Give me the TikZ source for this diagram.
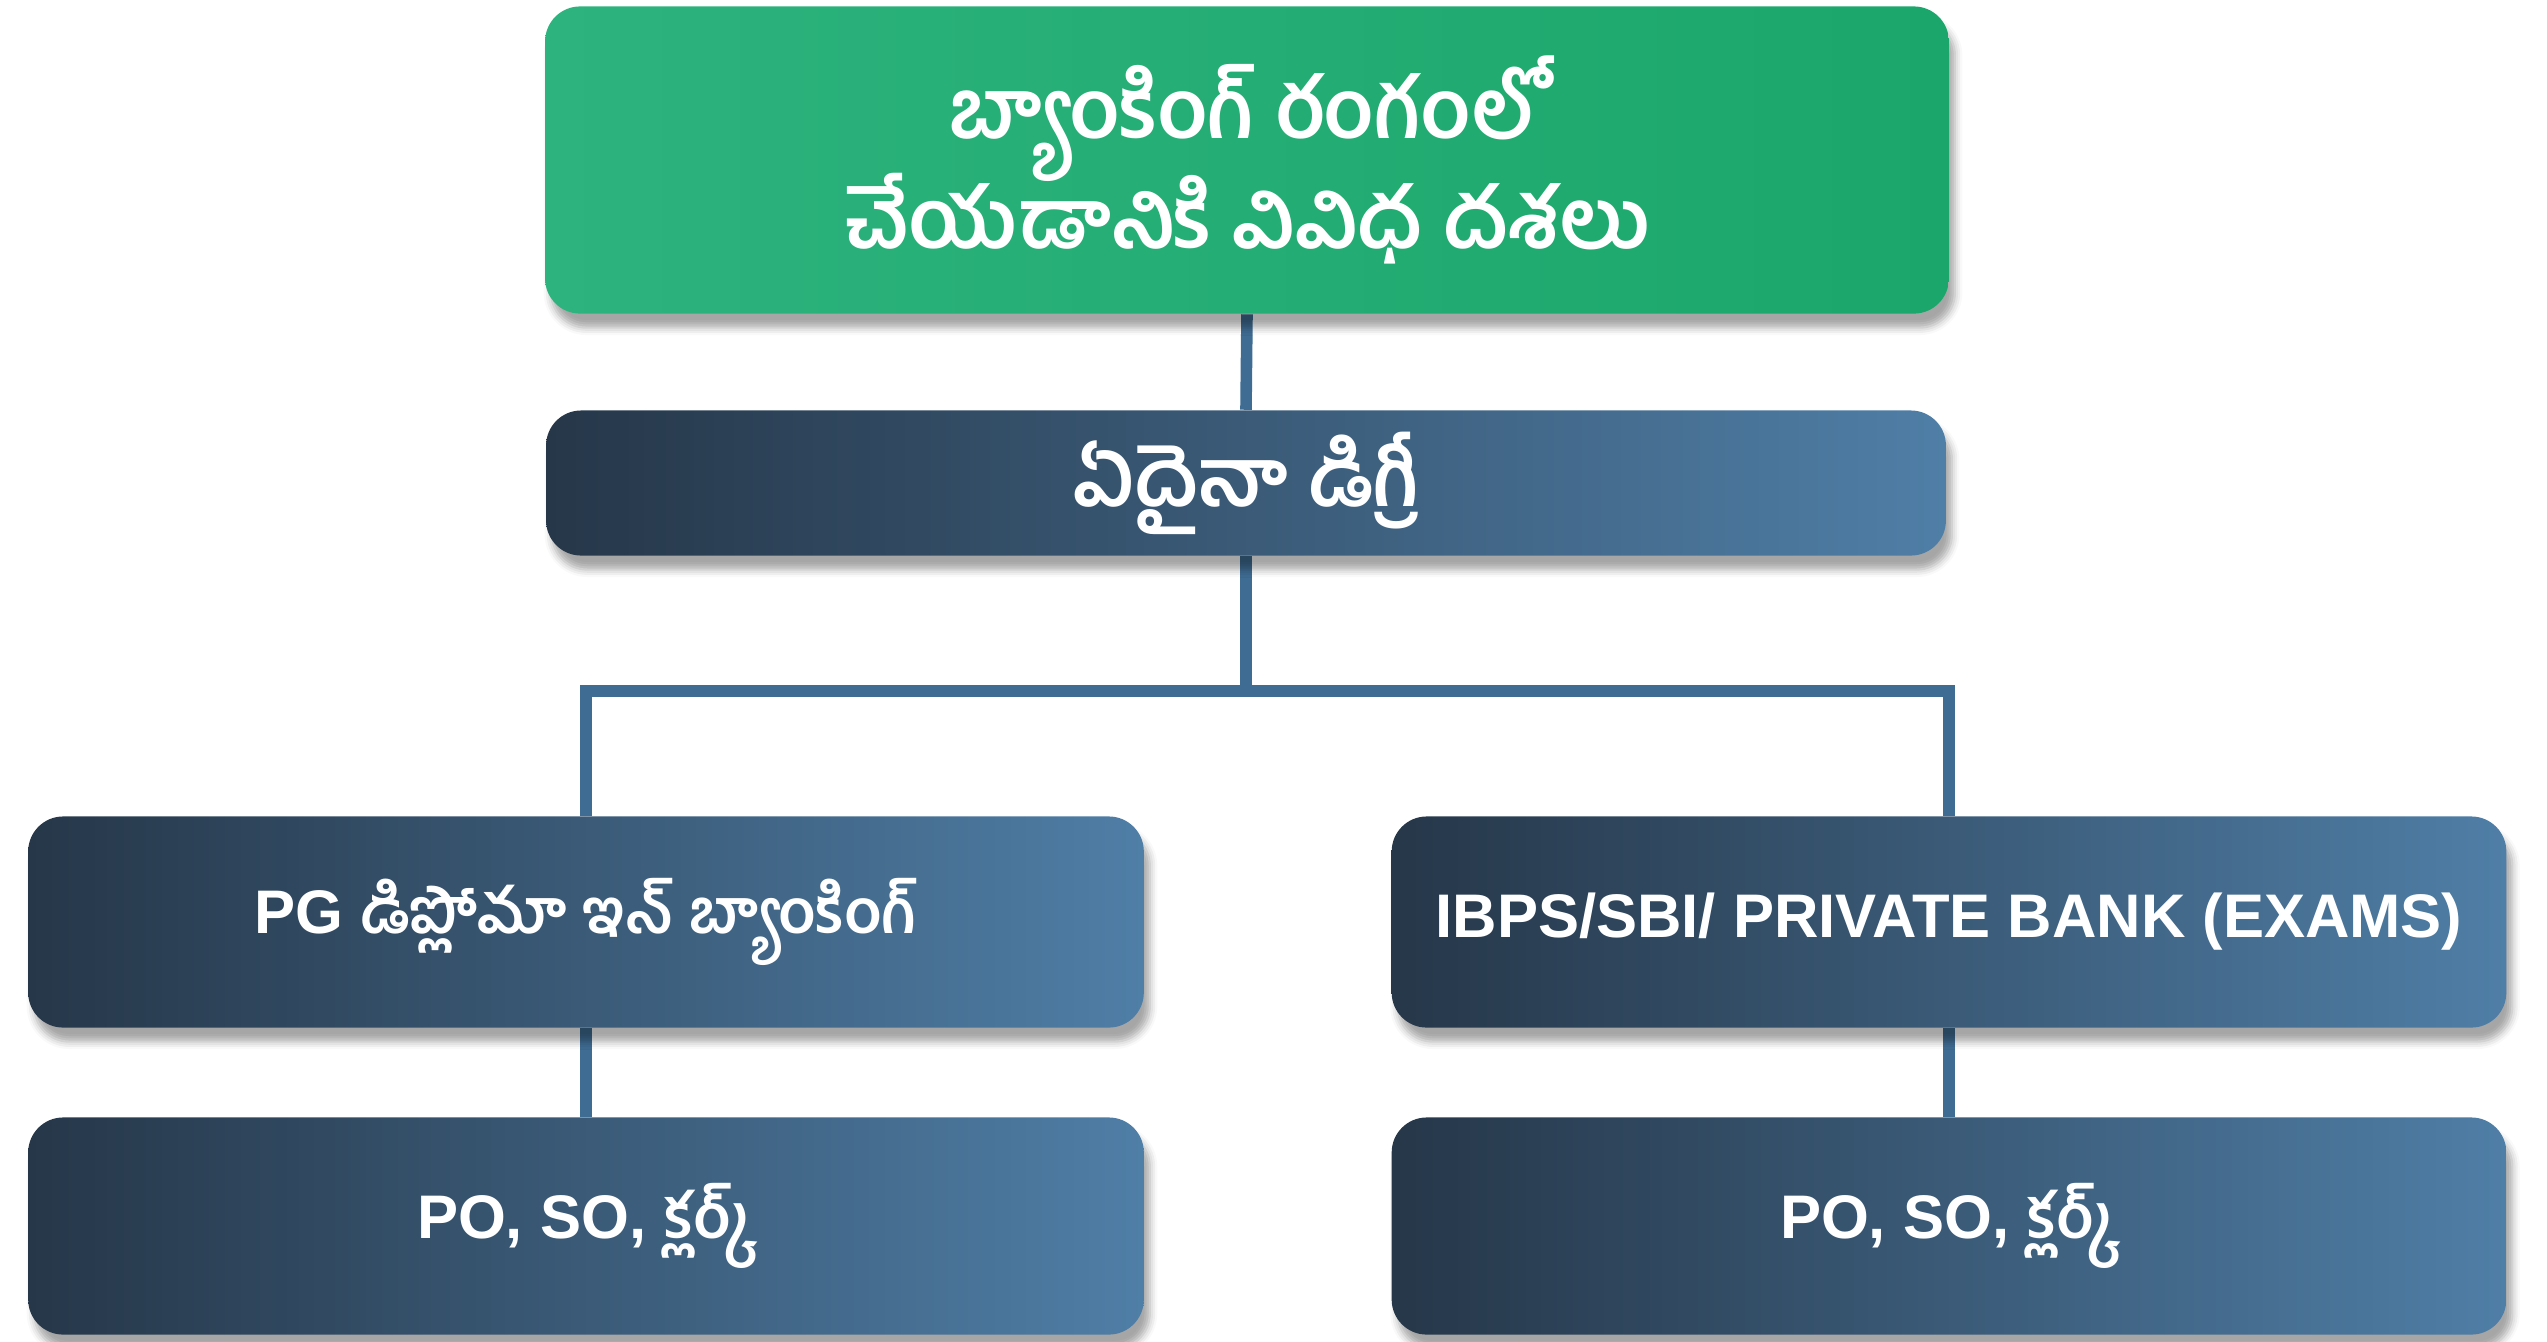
\documentclass[tikz,border=0pt]{standalone}
\usepackage{fontspec}
\setmainfont{Liberation Sans}
\newfontfamily\te[Script=Telugu]{Hind Guntur}
\usetikzlibrary{positioning,shadows.blur,backgrounds}
\definecolor{BankGreenL}{HTML}{2DB37E}
\definecolor{BankGreenR}{HTML}{1BA76B}
\definecolor{BankBlueL}{HTML}{263749}
\definecolor{BankBlueR}{HTML}{4F7EA6}
\definecolor{BankLine}{HTML}{3F6C93}

\begin{document}
\begin{tikzpicture}[x=0.01cm,y=-0.01cm,
  box/.style={rounded corners=0.35cm,text=white,align=center,
    blur shadow={shadow xshift=0.6mm,shadow yshift=-1.4mm,shadow opacity=35}},
  greenbox/.style={box,left color=BankGreenL,right color=BankGreenR,
    font=\bfseries\fontsize{23.5}{27}\selectfont},
  bluebox/.style={box,left color=BankBlueL,right color=BankBlueR,
    font=\bfseries\fontsize{17.5}{22}\selectfont},
  link/.style={BankLine,line width=3.3pt}]
  \useasboundingbox (0,0) rectangle (2547,1341);
  \node[greenbox,minimum width=14.03cm,minimum height=3.07cm] (top) at (1247,160)
      {\te బ్యాంకింగ్ రంగంలో\\[-0.12cm]\te చేయడానికి వివిధ దశలు};
  \node[bluebox,minimum width=13.99cm,minimum height=1.45cm,
      font=\bfseries\fontsize{23}{28}\selectfont] (degree) at (1246,483)
      {\te ఏదైనా డిగ్రీ};
  \node[bluebox,minimum width=11.15cm,minimum height=2.11cm] (pgd) at (586,922)
      {PG {\te డిప్లోమా ఇన్ బ్యాంకింగ్}};
  \node[bluebox,minimum width=11.14cm,minimum height=2.11cm] (ibps) at (1949,922)
      {IBPS/SBI/ PRIVATE BANK (EXAMS)};
  \node[bluebox,minimum width=11.15cm,minimum height=2.17cm] (pgjob) at (586,1226)
      {PO, SO, {\te క్లర్క్}};
  \node[bluebox,minimum width=11.14cm,minimum height=2.17cm] (ibpsjob) at (1949,1226)
      {PO, SO, {\te క్లర్క్}};
  \coordinate (split) at (1246,691);
  \begin{scope}[on background layer]
    \draw[link] (top.south) -- (degree.north);
    \draw[link] (degree.south) -- (split);
    \draw[link] (pgd.north) |- (split) -| (ibps.north);
    \draw[link] (pgd.south) -- (pgjob.north);
    \draw[link] (ibps.south) -- (ibpsjob.north);
  \end{scope}
\end{tikzpicture}
\end{document}
